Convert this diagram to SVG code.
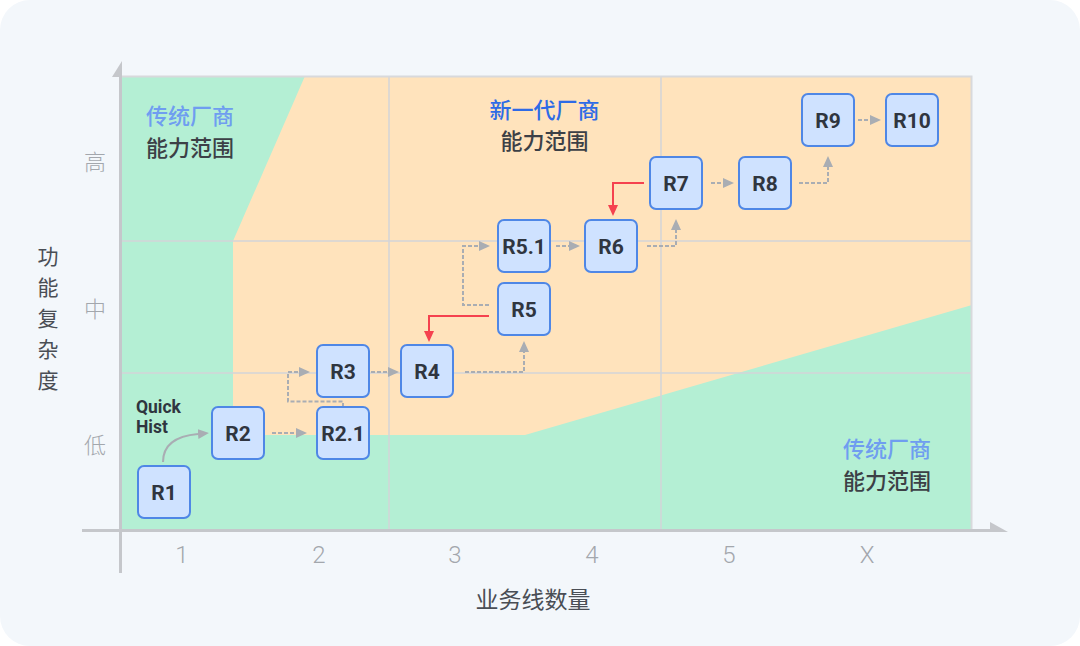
<svg xmlns="http://www.w3.org/2000/svg" width="1080" height="646" viewBox="0 0 1080 646">
<defs>
<style>
.cjk{font-family:'Noto Sans CJK SC','Noto Sans',sans-serif;}
.tick{font-family:'Noto Sans CJK SC','Noto Sans',sans-serif;font-weight:300;fill:#a3a7ad;font-size:22px;text-anchor:middle;}
.num{font-family:Roboto,'Noto Sans',sans-serif;font-weight:300;fill:#a3a7ad;font-size:24px;text-anchor:middle;}
.grid{stroke:#d3d5d9;stroke-width:1.5;fill:none;}
.node rect{fill:#cfe2ff;stroke:#4f87e6;stroke-width:2;}
.node text{font-family:Roboto,'DejaVu Sans',sans-serif;font-weight:700;font-size:21px;fill:#2f3540;text-anchor:middle;}
.dash{fill:none;stroke:#a9adb3;stroke-width:2;stroke-dasharray:4 2;marker-end:url(#ag);}
.solid{fill:none;stroke:#a9adb3;stroke-width:2;marker-end:url(#ag);}
.red{fill:none;stroke:#f5424f;stroke-width:2;marker-end:url(#ar);}
.lb{fill:#6f9df0;font-size:22px;font-weight:500;}
.dk{fill:#3c4046;font-size:22px;font-weight:500;}
</style>
<marker id="ag" markerUnits="userSpaceOnUse" markerWidth="11" markerHeight="10" refX="0" refY="5" orient="auto" viewBox="0 0 11 10">
<path d="M0,0 L11,5 L0,10 z" fill="#a9adb3"/>
</marker>
<marker id="ar" markerUnits="userSpaceOnUse" markerWidth="11" markerHeight="10" refX="0" refY="5" orient="auto" viewBox="0 0 11 10">
<path d="M0,0 L11,5 L0,10 z" fill="#f5424f"/>
</marker>
</defs>
<rect x="0" y="0" width="1080" height="646" fill="#ffffff"/>
<rect x="0" y="0" width="1080" height="646" rx="30" ry="30" fill="#f3f7fb"/>

<g id="plot">
<rect x="120" y="76" width="852" height="455" fill="#b4efd4"/>
<polygon points="305,76 972,76 972,305 525,435 233,435 233,241" fill="#ffe3bc"/>
<line class="grid" x1="120" y1="241" x2="972" y2="241"/>
<line class="grid" x1="120" y1="373" x2="972" y2="373"/>
<line class="grid" x1="389" y1="76" x2="389" y2="531"/>
<line class="grid" x1="661" y1="76" x2="661" y2="531"/>
<path d="M120,76.5 H971.5 V531" stroke="#d8d9dc" stroke-width="2" fill="none"/>
</g>

<g id="axes">
<line x1="120.5" y1="76" x2="120.5" y2="573" stroke="#c5c7cb" stroke-width="3"/>
<polygon points="122,61 112,77 122,77" fill="#c5c7cb"/>
<line x1="82" y1="530.5" x2="991" y2="530.5" stroke="#c5c7cb" stroke-width="3"/>
<polygon points="990,522 1008,532 990,532" fill="#c5c7cb"/>
<text class="tick" x="95" y="170">高</text>
<text class="tick" x="95" y="317">中</text>
<text class="tick" x="95" y="453">低</text>
<g class="cjk" fill="#4a4e55" font-size="21" text-anchor="middle">
<text x="48" y="264">功</text>
<text x="48" y="295">能</text>
<text x="48" y="326">复</text>
<text x="48" y="357">杂</text>
<text x="48" y="388">度</text>
</g>
<text class="num" x="182" y="563">1</text>
<text class="num" x="319" y="563">2</text>
<text class="num" x="455" y="563">3</text>
<text class="num" x="592" y="563">4</text>
<text class="num" x="729" y="563">5</text>
<text class="num" x="867" y="563">X</text>
<text class="cjk" x="533" y="608" font-size="23" fill="#4a4e55" text-anchor="middle">业务线数量</text>
</g>

<g id="labels" class="cjk">
<text class="lb" x="146" y="124">传统厂商</text>
<text class="dk" x="146" y="156">能力范围</text>
<text x="544.5" y="117.5" font-size="22" font-weight="500" fill="#2e6be6" text-anchor="middle">新一代厂商</text>
<text class="dk" x="544.5" y="148.5" text-anchor="middle">能力范围</text>
<text class="lb" x="931" y="456.5" text-anchor="end">传统厂商</text>
<text class="dk" x="931" y="488.5" text-anchor="end">能力范围</text>
<text x="136" y="412.5" font-family="Roboto,'DejaVu Sans',sans-serif" font-weight="700" font-size="17.5" fill="#2f3540">Quick</text>
<text x="136" y="432.5" font-family="Roboto,'DejaVu Sans',sans-serif" font-weight="700" font-size="17.5" fill="#2f3540">Hist</text>
</g>

<g id="connectors">
<path class="solid" d="M163,462 C163,444 176,436 198,434"/>
<path class="dash" d="M272,433 H296"/>
<path class="dash" d="M343,407 V401.5 H288 V372 H299"/>
<path class="dash" d="M371,372 H388"/>
<path class="dash" d="M465,372 H524 V352"/>
<path class="dash" d="M489,305 H463 V246 H479"/>
<path class="red" d="M489,316 H429 V331"/>
<path class="dash" d="M556,246 H569"/>
<path class="dash" d="M647,246 H676 V230"/>
<path class="red" d="M644,183 H613 V205"/>
<path class="dash" d="M711,183 H723"/>
<path class="dash" d="M799,183 H828 V167"/>
<path class="dash" d="M858,120 H870"/>
</g>

<g id="R1" class="node"><rect x="138" y="466" width="52" height="52" rx="6"/><text x="164" y="500">R1</text></g>
<g id="R2" class="node"><rect x="212" y="407" width="52" height="52" rx="6"/><text x="238" y="441">R2</text></g>
<g id="R2_1" class="node"><rect x="317" y="407" width="52" height="52" rx="6"/><text x="343" y="441">R2.1</text></g>
<g id="R3" class="node"><rect x="317" y="345" width="52" height="52" rx="6"/><text x="343" y="379">R3</text></g>
<g id="R4" class="node"><rect x="401" y="345" width="52" height="52" rx="6"/><text x="427" y="379">R4</text></g>
<g id="R5" class="node"><rect x="498" y="283" width="52" height="52" rx="6"/><text x="524" y="317">R5</text></g>
<g id="R5_1" class="node"><rect x="498" y="220" width="52" height="52" rx="6"/><text x="524" y="254">R5.1</text></g>
<g id="R6" class="node"><rect x="585" y="220" width="52" height="52" rx="6"/><text x="611" y="254">R6</text></g>
<g id="R7" class="node"><rect x="650" y="157" width="52" height="52" rx="6"/><text x="676" y="191">R7</text></g>
<g id="R8" class="node"><rect x="739" y="157" width="52" height="52" rx="6"/><text x="765" y="191">R8</text></g>
<g id="R9" class="node"><rect x="802" y="94" width="52" height="52" rx="6"/><text x="828" y="128">R9</text></g>
<g id="R10" class="node"><rect x="886" y="94" width="52" height="52" rx="6"/><text x="912" y="128">R10</text></g>
</svg>
